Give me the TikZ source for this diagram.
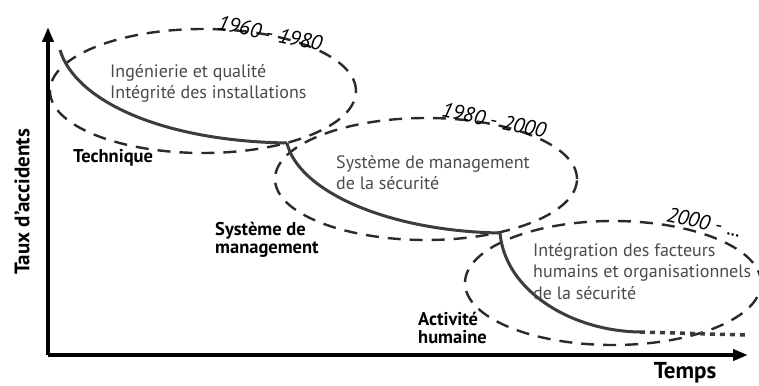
\documentclass[tikz,border=0pt]{standalone}
\usepackage{fontspec}
\setmainfont{PT Sans}
\usetikzlibrary{arrows.meta,shapes.geometric}
\definecolor{curvegray}{HTML}{3C3C3C}
\definecolor{dashgray}{HTML}{2A2A2A}
\definecolor{textgray}{HTML}{4A4A4A}

\begin{document}
\begin{tikzpicture}[x=1pt,y=-1pt,
    axis/.style={line width=4pt,-{Triangle[length=15pt,width=11pt]}},
    phase/.style={ellipse,draw=dashgray,line width=2.4pt,dash pattern=on 13pt off 9pt},
    trend/.style={draw=curvegray,line width=3pt},
    era/.style={font=\fontsize{18}{21.5}\selectfont,text=textgray,align=left,anchor=north west,inner sep=0pt},
    lever/.style={font=\bfseries\fontsize{18.5}{18}\selectfont,align=left,anchor=north west,inner sep=0pt},
    years/.style={font=\itshape\fontsize{21}{22}\selectfont,inner sep=1pt}]
\useasboundingbox (0,0) rectangle (759,385);
            % Phases
\node[phase,minimum width=306pt,minimum height=124pt] (e1) at (203,91) {};
\node[phase,minimum width=302pt,minimum height=122pt] (e2) at (426,179) {};
\node[phase,minimum width=296pt,minimum height=124pt] (e3) at (613,283) {};
\node[years,rotate=-12] (y1) at (270,33) {1960 - 1980};
\node[years,rotate=-12] (y2) at (494,120) {1980 - 2000};
\node[years,rotate=-12] (y3) at (704,222) {2000 - ...};
            % Axes
\coordinate (o) at (48,355);
\coordinate (ytip) at (48,27);
\coordinate (xtip) at (748,355);
\draw[axis] (o) -- (ytip);
\draw[axis] (o) -- (xtip);
\node[font=\bfseries\fontsize{21}{22}\selectfont,rotate=90] (ylab) at (22,202) {Taux d'accidents};
\node[font=\bfseries\fontsize{23}{24}\selectfont] (xlab) at (685,373) {Temps};
            % Trend
\coordinate (p0) at (60,50);
\coordinate (p1) at (287,143);
\coordinate (p2) at (500,233);
\coordinate (p3) at (640,332);
\coordinate (p4) at (745,335);
\draw[trend] (p0) .. controls (75,100) and (160,141) .. (p1);
\draw[trend] (p1) .. controls (298,190) and (385,231) .. (p2);
\draw[trend] (p2) .. controls (505,290) and (570,331) .. (p3);
\draw[trend,line width=3.5pt,dash pattern=on 5pt off 5pt] (p3) -- (p4);
            % Texts
\node[era] (t1) at (110,64) {Ingénierie et qualité\\Intégrité des installations};
\node[era] (t2) at (336,155) {Système de management\\de la sécurité};
\node[era] (t3) at (533,243) {Intégration des facteurs\\humains et organisationnels\\de la sécurité};
\node[lever] (l1) at (73,149) {Technique};
\node[lever] (l2) at (215,222) {Système de\\management};
\node[lever] (l3) at (418,312) {Activité\\humaine};
\end{tikzpicture}
\end{document}
